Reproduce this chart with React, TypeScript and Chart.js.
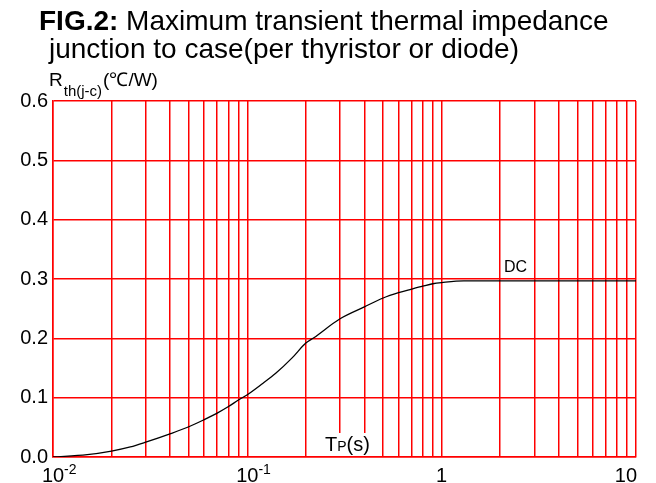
import React, { useEffect, useRef } from "react";
import { Chart, registerables } from "chart.js";

Chart.register(...registerables);

// ---- data ----
const pulseTimes = [0.01, 0.015, 0.02, 0.025, 0.03, 0.04, 0.05, 0.06, 0.07, 0.08, 0.09, 0.1, 0.12, 0.14, 0.17, 0.2, 0.22, 0.3, 0.4, 0.5, 0.6, 0.7, 0.8, 0.9, 1, 1.3, 2, 10];
const impedance = [0, 0.004, 0.01, 0.017, 0.025, 0.039, 0.051, 0.063, 0.074, 0.085, 0.096, 0.105, 0.124, 0.141, 0.167, 0.192, 0.201, 0.233, 0.253, 0.268, 0.277, 0.283, 0.288, 0.292, 0.294, 0.297, 0.297, 0.297];

const xGridValues = [
  0.01, 0.02, 0.03, 0.04, 0.05, 0.06, 0.07, 0.08, 0.09,
  0.1, 0.2, 0.3, 0.4, 0.5, 0.6, 0.7, 0.8, 0.9,
  1, 2, 3, 4, 5, 6, 7, 8, 9, 10,
];
const xTickValues = [0.01, 0.1, 1, 10];
const xTickBase = ["10", "10", "1", "10"];
const xTickExp = ["-2", "-1", "", ""];
const yTicks = [0, 0.1, 0.2, 0.3, 0.4, 0.5, 0.6];

const titleBold = "FIG.2:";
const titleLine1 = " Maximum transient thermal impedance";
const titleLine2 = "junction to case(per thyristor or diode)";
const yLabelMain = "R";
const yLabelSub = "th(j-c)";
const yLabelUnit = "(\u2103/W)";
const xLabelT = "T";
const xLabelP = "P";
const xLabelS = "(s)";
const dcLabel = "DC";

const FONT = "'Liberation Sans', Arial, sans-serif";
const RED = "#ff0000";

const textPlugin = {
  id: "texts",
  afterDraw(chart: any) {
    const ctx = chart.ctx as CanvasRenderingContext2D;
    const xs = chart.scales.x;
    ctx.save();
    ctx.fillStyle = "#000";
    ctx.textBaseline = "alphabetic";
    ctx.textAlign = "left";

    // title
    ctx.font = `bold 28px ${FONT}`;
    ctx.fillText(titleBold, 39, 30);
    const bw = ctx.measureText(titleBold).width;
    ctx.font = `28px ${FONT}`;
    ctx.fillText(titleLine1, 39 + bw, 30);
    ctx.fillText(titleLine2, 49, 58);

    // y label
    ctx.font = `19px ${FONT}`;
    ctx.fillText(yLabelMain, 49, 86);
    let x = 49 + ctx.measureText(yLabelMain).width + 1;
    ctx.font = `15px ${FONT}`;
    ctx.fillText(yLabelSub, x, 96);
    x += ctx.measureText(yLabelSub).width + 1;
    ctx.font = `19px ${FONT}`;
    ctx.fillText(yLabelUnit, x, 86);

    // x tick labels
    xTickValues.forEach((v, i) => {
      const px = xs.getPixelForValue(v);
      ctx.font = `20px ${FONT}`;
      const w1 = ctx.measureText(xTickBase[i]).width;
      ctx.font = `14px ${FONT}`;
      const w2 = xTickExp[i] ? ctx.measureText(xTickExp[i]).width : 0;
      let left = px - w1 / 2;
      if (left + w1 + w2 > 637) left = 637 - w1 - w2;
      ctx.font = `20px ${FONT}`;
      ctx.fillText(xTickBase[i], left, 482);
      if (xTickExp[i]) {
        ctx.font = `14px ${FONT}`;
        ctx.fillText(xTickExp[i], left + w1, 473.5);
      }
    });

    // TP(s) label with white background
    ctx.fillStyle = "#fff";
    ctx.fillRect(321, 433, 57, 23);
    ctx.fillStyle = "#000";
    let tx = 325;
    ctx.font = `20px ${FONT}`;
    ctx.fillText(xLabelT, tx, 450.7);
    tx += ctx.measureText(xLabelT).width;
    ctx.font = `14px ${FONT}`;
    ctx.fillText(xLabelP, tx, 450.7);
    tx += ctx.measureText(xLabelP).width;
    ctx.font = `20px ${FONT}`;
    ctx.fillText(xLabelS, tx, 450.7);

    // DC label
    ctx.font = `16px ${FONT}`;
    ctx.fillText(dcLabel, 504, 271.7);
    ctx.restore();
  },
};

export default function App() {
  const ref = useRef<HTMLCanvasElement>(null);
  useEffect(() => {
    if (!ref.current) return;
    const chart = new Chart(ref.current, {
      type: "line",
      data: {
        datasets: [
          {
            data: pulseTimes.map((t, i) => ({ x: t, y: impedance[i] })),
            borderColor: "#000",
            borderWidth: 1.3,
            pointRadius: 0,
            cubicInterpolationMode: "monotone",
            fill: false,
          },
        ],
      },
      options: {
        animation: false,
        responsive: true,
        maintainAspectRatio: false,
        layout: { padding: { left: 0, right: 20, top: 101, bottom: 0 } },
        plugins: { legend: { display: false }, tooltip: { enabled: false }, title: { display: false } },
        scales: {
          x: {
            type: "logarithmic",
            min: 0.01,
            max: 10,
            afterBuildTicks: (scale: any) => {
              scale.ticks = xGridValues.map((v) => ({ value: v }));
            },
            afterFit: (scale: any) => {
              scale.height = 26;
            },
            ticks: { display: false },
            grid: { color: RED, lineWidth: 1.5, drawTicks: false },
            border: { color: RED, width: 1.5 },
          },
          y: {
            type: "linear",
            min: 0,
            max: 0.6,
            afterBuildTicks: (scale: any) => {
              scale.ticks = yTicks.map((v) => ({ value: v }));
            },
            afterFit: (scale: any) => {
              scale.width = 53;
            },
            ticks: {
              color: "#000",
              font: { family: FONT, size: 20 },
              padding: 5,
              callback: (v: any) => Number(v).toFixed(1),
            },
            grid: { color: RED, lineWidth: 1.5, drawTicks: false },
            border: { color: RED, width: 1.5 },
          },
        },
      },
      plugins: [textPlugin],
    } as any);
    return () => chart.destroy();
  }, []);
  return (
    <div style={{ position: "absolute", left: 0, top: 0, width: 656, height: 483, background: "#fff" }}>
      <canvas ref={ref} />
    </div>
  );
}
